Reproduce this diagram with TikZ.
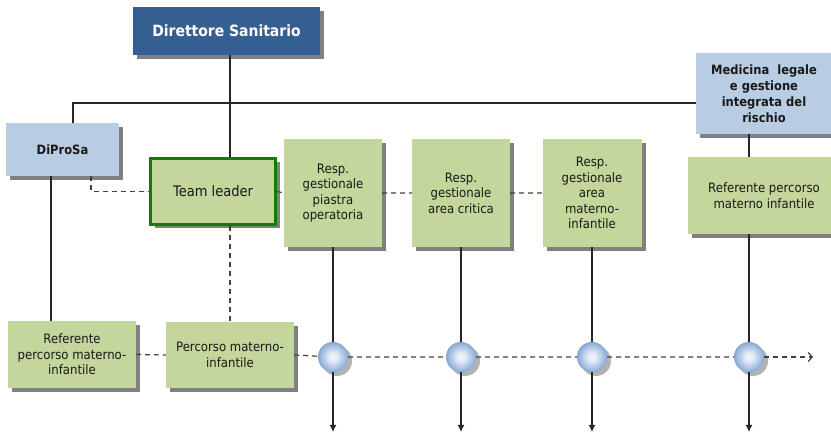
\documentclass[tikz,border=0pt]{standalone}
\usepackage{fontspec}
\setmainfont{DejaVu Sans}[FakeStretch=0.9]
\usetikzlibrary{shadows,arrows.meta}
\definecolor{dsblue}{RGB}{54,95,145}
\definecolor{lightblue}{RGB}{184,204,228}
\definecolor{palegreen}{RGB}{195,214,155}
\definecolor{tlgreen}{RGB}{10,128,10}
\definecolor{ballblue}{RGB}{85,135,200}
\definecolor{shadegray}{RGB}{128,128,128}
\colorlet{ballcore}{white!88!ballblue}
\colorlet{ballmid}{white!45!ballblue}
\pgfdeclareradialshading{bubble}{\pgfpoint{0bp}{0bp}}{color(0bp)=(ballcore);color(5bp)=(ballcore);color(20bp)=(ballmid);color(32bp)=(ballblue);color(50bp)=(ballblue!90!black)}

\begin{document}
\begin{tikzpicture}[x=1pt,y=-1pt,
    every node/.style={font=\fontsize{13}{15.5}\selectfont,text=black!90,align=center,inner sep=0pt},
    shadowed/.style={drop shadow={shadow xshift=4pt,shadow yshift=-4pt,fill=shadegray,opacity=1}},
    head/.style={shadowed,fill=dsblue,text=white,font=\fontsize{15.5}{18}\selectfont\bfseries},
    staff/.style={shadowed,fill=lightblue,font=\fontsize{12.8}{16}\selectfont\bfseries},
    unit/.style={shadowed,fill=palegreen},
    ball/.style={drop shadow={shadow xshift=4pt,shadow yshift=-4pt,fill=black!30,opacity=1},circle,minimum size=30pt,shading=bubble},
    solid line/.style={black!85,line width=1.2pt},
    dash line/.style={black!75,line width=1.2pt,dash pattern=on 5pt off 4pt}]
\useasboundingbox (0,0) rectangle (831,435);

\node[head,minimum width=187pt,minimum height=48pt] (ds) at (226.5,31) {Direttore Sanitario};
\node[staff,minimum width=113pt,minimum height=53pt] (dip) at (62.5,149.5) {DiProSa};
\node[staff,minimum width=136pt,minimum height=81pt] (med) at (764,93.5) {Medicina~ legale\\e gestione\\integrata del\\rischio};

\node[unit,draw=tlgreen,line width=2.5pt,minimum width=125pt,minimum height=66pt,font=\fontsize{14.5}{17}\selectfont] (tl) at (213,191.5) {Team leader};
\node[unit,minimum width=98pt,minimum height=108pt] (rp) at (333,193) {Resp.\\gestionale\\piastra\\operatoria};
\node[unit,minimum width=98pt,minimum height=108pt] (rc) at (461,193) {Resp.\\gestionale\\area critica};
\node[unit,minimum width=99pt,minimum height=108pt] (rm) at (592,193) {Resp.\\gestionale\\area\\materno-\\infantile};
\node[unit,minimum width=152pt,minimum height=77pt] (refR) at (764,195.5) {Referente percorso\\materno infantile};

\node[unit,minimum width=128pt,minimum height=67pt] (refL) at (72,354.5) {Referente\\percorso materno-\\infantile};
\node[unit,minimum width=128pt,minimum height=66pt] (pm) at (230,355) {Percorso materno-\\infantile};

\foreach \name/\x in {c1/333,c2/461,c3/592,c4/749}
    \node[ball] (\name) at (\x,357) {};

\coordinate (bus) at (73,103);
\coordinate (bot) at (0,432);
\coordinate (flow) at (813,357);

\draw[solid line] (ds.south -| pm.north) -- (tl.north -| pm.north);
\draw[solid line] (bus |- dip.north) -- (bus) -- (bus -| med.west);
\draw[solid line] ([xshift=-11.5pt]dip.south) -- ([xshift=-11.5pt]dip.south |- refL.north);
\draw[solid line] (med.south -| c4) -- (refR.north -| c4);

\draw[dash line] ([xshift=28.5pt]dip.south) |- (tl.west);
\draw[dash line] (tl.east) -- (rp.west) (rp.east) -- (rc.west) (rc.east) -- (rm.west);
\draw[dash line] (tl.south -| pm.north) -- (pm.north);
\draw[dash line] (refL.east) -- (pm.west);
\draw[dash line] (pm.east) -- (c1) -- (c2) -- (c3) -- (c4);
\draw[dash line,-{Straight Barb[length=4pt,width=9pt]}] (c4) -- (flow);

\foreach \resp/\hub in {rp/c1,rc/c2,rm/c3,refR/c4}{
    \draw[solid line] (\resp.south -| \hub) -- (\hub);
    \draw[solid line,-{Latex[length=7pt,width=7pt]}] (\hub) -- (\hub |- bot);
}
\end{tikzpicture}
\end{document}
